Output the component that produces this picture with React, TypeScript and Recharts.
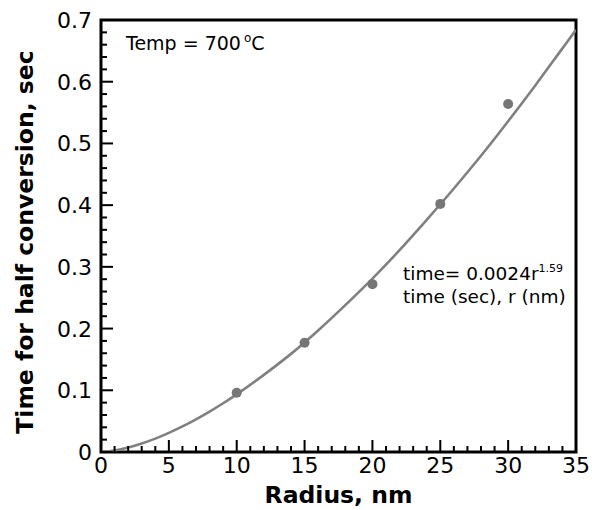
import React from "react";
import { ComposedChart, Line, Scatter, XAxis, YAxis, ReferenceArea } from "recharts";

// fitted curve (time = 0.0024 r^1.59)
const CURVE_R = [0, 1, 2, 3, 4, 5, 6, 7, 8, 9, 10, 12, 14, 16, 18, 20, 22, 24, 26, 28, 30, 32, 34, 35];
const CURVE_T = [0, 0.0024, 0.0072, 0.0138, 0.0217, 0.031, 0.0414, 0.053, 0.0655, 0.079, 0.0934, 0.125, 0.159, 0.197, 0.238, 0.281, 0.327, 0.376, 0.427, 0.48, 0.536, 0.594, 0.654, 0.684];

// measured points
const POINT_R = [10, 15, 20, 25, 30];
const POINT_T = [0.096, 0.177, 0.272, 0.402, 0.564];

const X_TICKS = [0, 1, 2, 3, 4, 5, 6, 7, 8, 9, 10, 11, 12, 13, 14, 15, 16, 17, 18, 19, 20, 21, 22, 23, 24, 25, 26, 27, 28, 29, 30, 31, 32, 33, 34, 35];
const X_LABELS = [0, 5, 10, 15, 20, 25, 30, 35];
const Y_TICKS = [0, 0.02, 0.04, 0.06, 0.08, 0.1, 0.12, 0.14, 0.16, 0.18, 0.2, 0.22, 0.24, 0.26, 0.28, 0.3, 0.32, 0.34, 0.36, 0.38, 0.4, 0.42, 0.44, 0.46, 0.48, 0.5, 0.52, 0.54, 0.56, 0.58, 0.6, 0.62, 0.64, 0.66, 0.68, 0.7];
const Y_LABELS = [0, 0.1, 0.2, 0.3, 0.4, 0.5, 0.6, 0.7];

const curve = CURVE_R.map((r, i) => ({ r, t: CURVE_T[i] }));
const points = POINT_R.map((r, i) => ({ r, t: POINT_T[i] }));

const FONT = "'DejaVu Sans', sans-serif";

if (typeof document !== "undefined") document.body.style.margin = "0";

const isLabel = (list: number[], v: number) => list.some((m) => Math.abs(m - v) < 1e-9);

const XTick = ({ x, y, payload }: any) => {
  const major = isLabel(X_LABELS, payload.value);
  return (
    <g>
      <line x1={x} x2={x} y1={y} y2={y - (major ? 12 : 6)} stroke="#000" strokeWidth={2} />
      {major && (
        <text x={x} y={y + 21} textAnchor="middle" fontSize={22} fill="#000" fontFamily={FONT}>
          {payload.value}
        </text>
      )}
    </g>
  );
};

const YTick = ({ x, y, payload }: any) => {
  const v = payload.value;
  const major = isLabel(Y_LABELS, v);
  return (
    <g>
      <line x1={x} x2={x + (major ? 12 : 6)} y1={y} y2={y} stroke="#000" strokeWidth={2} />
      {major && (
        <text x={x - 9} y={y + 8} textAnchor="end" fontSize={22} fill="#000" fontFamily={FONT}>
          {v === 0 ? "0" : v.toFixed(1)}
        </text>
      )}
    </g>
  );
};

const Dot = (props: any) => <circle cx={props.cx} cy={props.cy} r={5} fill="#767676" />;

export default function App() {
  return (
    <div style={{ position: "relative", width: 592, height: 510, background: "#fff", fontFamily: FONT }}>
      <ComposedChart width={592} height={510} margin={{ top: 20, right: 16, bottom: 0, left: 16 }}>
        <XAxis
          dataKey="r"
          type="number"
          domain={[0, 35]}
          ticks={X_TICKS}
          interval={0}
          tick={<XTick />}
          tickSize={0}
          tickMargin={0}
          tickLine={false}
          axisLine={false}
          height={58}
          allowDataOverflow
        />
        <YAxis
          dataKey="t"
          type="number"
          domain={[0, 0.7]}
          ticks={Y_TICKS}
          interval={0}
          tick={<YTick />}
          tickSize={0}
          tickMargin={0}
          tickLine={false}
          axisLine={false}
          width={85}
          allowDataOverflow
        />
        <ReferenceArea x1={0} x2={35} y1={0} y2={0.7} fill="none" stroke="#000" strokeWidth={3} ifOverflow="visible" />
        <Line
          data={curve}
          dataKey="t"
          type="monotone"
          stroke="#808080"
          strokeWidth={2.6}
          dot={false}
          activeDot={false}
          isAnimationActive={false}
        />
        <Scatter data={points} dataKey="t" shape={<Dot />} isAnimationActive={false} />
      </ComposedChart>
      <svg
        width={592}
        height={510}
        style={{ position: "absolute", left: 0, top: 0, pointerEvents: "none" }}
        fontFamily={FONT}
      >
        <text x={126} y={50} fontSize={19} fill="#000">
          Temp = 700
          <tspan dx={3} dy={-8} fontSize={12}>o</tspan>
          <tspan dy={8}>C</tspan>
        </text>
        <text x={403} y={280} fontSize={18.5} fill="#000">
          time= 0.0024r
          <tspan dy={-8} fontSize={11}>1.59</tspan>
        </text>
        <text x={403} y={303} fontSize={18.5} fill="#000">
          time (sec), r (nm)
        </text>
        <text x={338.5} y={503} textAnchor="middle" fontSize={23.5} fontWeight="bold" fill="#000">
          Radius, nm
        </text>
        <text
          x={33}
          y={242}
          textAnchor="middle"
          fontSize={23.5}
          fontWeight="bold"
          fill="#000"
          transform="rotate(-90, 33, 242)"
        >
          Time for half conversion, sec
        </text>
      </svg>
    </div>
  );
}
